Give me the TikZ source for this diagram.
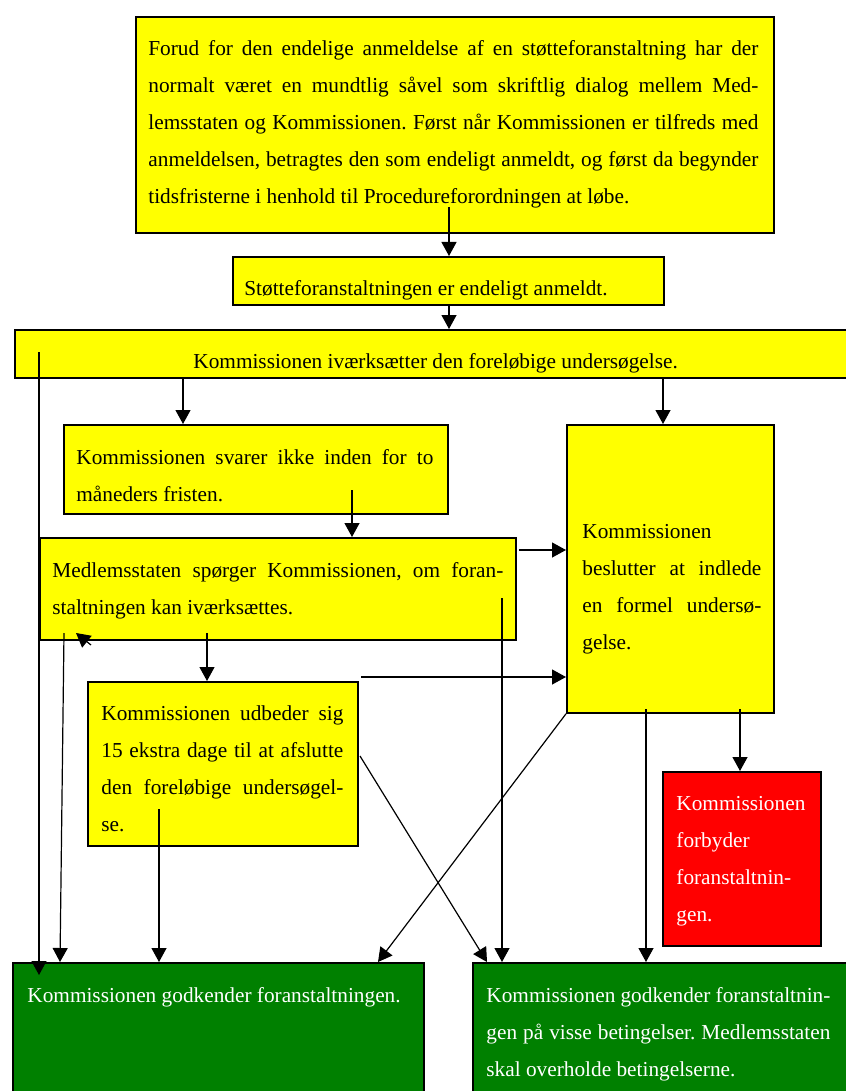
\documentclass[tikz,border=0pt]{standalone}
\usepackage{fontspec}
\setmainfont{Liberation Serif}
\usetikzlibrary{arrows.meta}
\definecolor{okgreen}{RGB}{0,128,0}
\definecolor{okyellow}{RGB}{255,255,0}
\definecolor{okred}{RGB}{255,0,0}
\tolerance=10000
\hyphenpenalty=10000
\hbadness=10000
\frenchspacing

\begin{document}
\begin{tikzpicture}[
  x=0.5pt, y=-0.5pt,
  box/.style={draw, line width=0.9pt, anchor=north west, inner sep=0pt},
  ybox/.style={box, fill=okyellow},
  rbox/.style={box, fill=okred},
  gbox/.style={box, fill=okgreen},
  txt/.style={anchor=base west, inner sep=0pt, font=\fontsize{10.65pt}{18.5pt}\selectfont},
  jtxt/.style={txt, align=justify},
  wtxt/.style={txt, text=white},
  arr/.style={line width=0.6pt, -{Triangle[length=7pt,width=7.5pt]}},
]
  \useasboundingbox (0,0) rectangle (845,1091);

  \node[ybox, minimum width=319pt, minimum height=108pt] (anmeld) at (135,16) {};
  \node[ybox, minimum width=215.5pt, minimum height=24pt] (stotte) at (232,256) {};
  \node[ybox, minimum width=423pt, minimum height=24pt] (ivaerk) at (14,329) {};
  \node[ybox, minimum width=192pt, minimum height=44.5pt] (svarer) at (63,424) {};
  \node[ybox, minimum width=238pt, minimum height=51pt] (medlem) at (39,537) {};
  \node[ybox, minimum width=103.5pt, minimum height=144pt] (formel) at (566,424) {};
  \node[ybox, minimum width=135pt, minimum height=82pt] (udbeder) at (87,681) {};
  \node[rbox, minimum width=79pt, minimum height=87pt] (forbud) at (662,771) {};
  \node[gbox, minimum width=205.5pt, minimum height=74pt] (godk) at (12,962) {};
  \node[gbox, minimum width=194pt, minimum height=74pt] (betinget) at (472,962) {};

  \node[jtxt, text width=305pt] (anmeld-t) at (148,56) {Forud for den endelige anmeldelse af en støtteforanstaltning har der\linebreak
    normalt været en mundtlig såvel som skriftlig dialog mellem Med-\linebreak
    lemsstaten og Kommissionen. Først når Kommissionen er tilfreds med\linebreak
    anmeldelsen, betragtes den som endeligt anmeldt, og først da begynder\linebreak
    tidsfristerne i henhold til Procedureforordningen at løbe.};
  \node[txt] (stotte-t) at (244,295) {Støtteforanstaltningen er endeligt anmeldt.};
  \node[txt] (ivaerk-t) at (193,368) {Kommissionen iværksætter den foreløbige undersøgelse.};
  \node[jtxt, text width=178.5pt] (svarer-t) at (76,464) {Kommissionen svarer ikke inden for to\linebreak
    måneders fristen.};
  \node[jtxt, text width=225.5pt] (medlem-t) at (52,577) {Medlemsstaten spørger Kommissionen, om foran-\linebreak
    staltningen kan iværksættes.};
  \node[jtxt, text width=89.5pt] (formel-t) at (582,538) {Kommissionen\newline
    beslutter at indlede\linebreak
    en formel undersø-\linebreak
    gelse.};
  \node[jtxt, text width=121pt] (udbeder-t) at (101,720) {Kommissionen udbeder sig\linebreak
    15 ekstra dage til at afslutte\linebreak
    den foreløbige undersøgel-\linebreak
    se.};
  \node[wtxt, align=left, text width=70pt] (forbud-t) at (676,810) {Kommissionen\\ forbyder\\ foranstaltnin-\\ gen.};
  \node[wtxt] (godk-t) at (27,1002) {Kommissionen godkender foranstaltningen.};
  \node[wtxt, align=justify, text width=172pt] (betinget-t) at (486,1002) {Kommissionen godkender foranstaltnin-\linebreak
    gen på visse betingelser. Medlemsstaten\linebreak
    skal overholde betingelserne.};

  \coordinate (a1) at (449,207);
  \coordinate (a2) at (39,352);
  \coordinate (a3) at (183,377);
  \coordinate (a4) at (663,377);
  \coordinate (a5) at (352,490);
  \coordinate (a6) at (519,550);
  \coordinate (a7) at (207,633);
  \coordinate (a8) at (64,633);
  \coordinate (a9) at (502,598);
  \coordinate (a10) at (91,645);
  \coordinate (a11) at (361,677);
  \coordinate (a12) at (159,809);
  \coordinate (a13) at (360,756);
  \coordinate (a14) at (646,709);
  \coordinate (a15) at (740,709);
  \coordinate (e2) at (39,975);
  \coordinate (e8) at (60,962);
  \coordinate (e10) at (76,633);
  \coordinate (e13) at (487,962);
  \coordinate (e15) at (378,962);

  \draw[arr] (a1) -- (a1 |- stotte.north);
  \draw[arr] (a1 |- stotte.south) -- (a1 |- ivaerk.north);
  \draw[arr] (a2) -- (e2);
  \draw[arr] (a3) -- (a3 |- svarer.north);
  \draw[arr] (a4) -- (a4 |- formel.north);
  \draw[arr] (a5) -- (a5 |- medlem.north);
  \draw[arr] (a6) -- (a6 -| formel.west);
  \draw[arr] (a7) -- (a7 |- udbeder.north);
  \draw[arr] (a8) -- (e8);
  \draw[arr] (a9) -- (a9 |- betinget.north);
  \draw[arr] (a10) -- (e10);
  \draw[arr] (a11) -- (a11 -| formel.west);
  \draw[arr] (a12) -- (a12 |- godk.north);
  \draw[arr] (a13) -- (e13);
  \draw[arr] (formel.south west) -- (e15);
  \draw[arr] (a14) -- (a14 |- betinget.north);
  \draw[arr] (a15) -- (a15 |- forbud.north);
\end{tikzpicture}
\end{document}
